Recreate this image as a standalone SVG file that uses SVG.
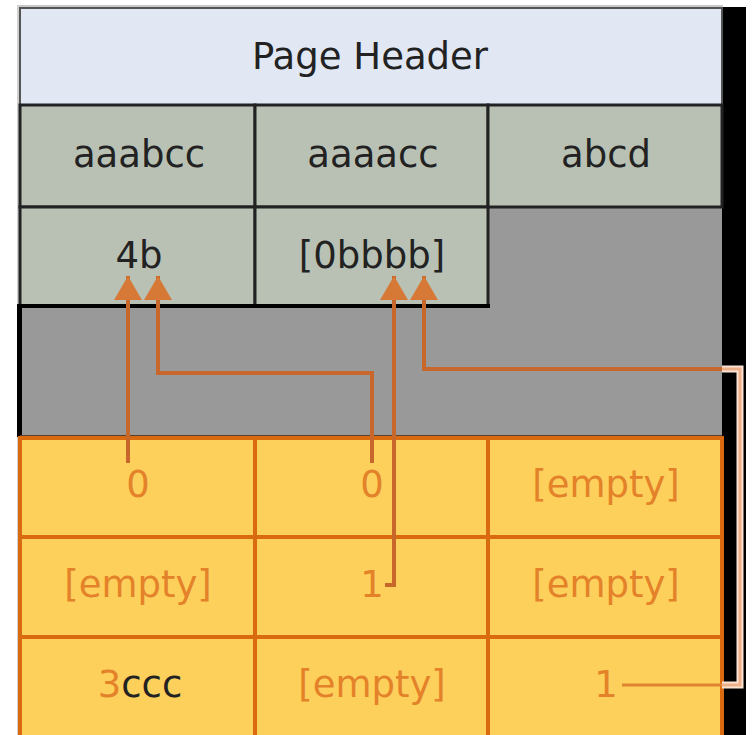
<svg xmlns="http://www.w3.org/2000/svg" width="755" height="735" viewBox="0 0 755 735">
<defs>
<style>
text{font-family:"DejaVu Sans","Liberation Sans",sans-serif;font-size:37px;text-anchor:middle}
.dk{fill:#222}
.or{fill:#e4822a}
.gc{fill:#b9c1b5;stroke:#222;stroke-width:3}
.oc{fill:#fdd05c;stroke:#d96a10;stroke-width:4}
.conn{fill:none;stroke:#c8672b;stroke-width:4}
</style>
<marker id="ah" markerUnits="userSpaceOnUse" markerWidth="26" markerHeight="30" refX="24" refY="15" orient="auto" viewBox="0 0 26 30"><path d="M0,1 L24,15 L0,29 z" fill="#d67936"/></marker>
</defs>
<rect x="0" y="0" width="755" height="735" fill="#fff"/>
<rect x="722" y="7" width="24" height="728" fill="#000"/>
<rect x="17" y="5" width="706" height="3" fill="#c8c8c8"/>
<rect x="17" y="5" width="3" height="730" fill="#d0d0d0"/>
<g id="gray-area">
<rect x="20" y="207" width="702" height="230" fill="#999"/>
<rect x="17" y="306" width="5" height="131" fill="#000"/>
<rect x="20" y="435" width="702" height="3" fill="#5a4030"/>
</g>
<g id="header">
<rect x="20" y="8" width="702" height="97" fill="#e1e8f4" stroke="#555" stroke-width="2"/>
<text class="dk" x="370" y="69">Page Header</text>
</g>
<g id="cell-aaabcc"><rect class="gc" x="20" y="105" width="235" height="102"/><text class="dk" x="139" y="167">aaabcc</text></g>
<g id="cell-aaaacc"><rect class="gc" x="255" y="105" width="233" height="102"/><text class="dk" x="373" y="167">aaaacc</text></g>
<g id="cell-abcd"><rect class="gc" x="488" y="105" width="234" height="102"/><text class="dk" x="606" y="167">abcd</text></g>
<g id="cell-4b"><rect class="gc" x="20" y="207" width="235" height="99"/><text class="dk" x="139" y="268">4b</text></g>
<g id="cell-0bbbb"><rect class="gc" x="255" y="207" width="233" height="99"/><text class="dk" x="372" y="268">[0bbbb]</text></g>
<rect x="17" y="304" width="473" height="4" fill="#000"/>
<g id="o-r1c1"><rect class="oc" x="20" y="438" width="235" height="99"/><text class="or" x="138" y="497">0</text></g>
<g id="o-r1c2"><rect class="oc" x="255" y="438" width="233" height="99"/><text class="or" x="372" y="497">0</text></g>
<g id="o-r1c3"><rect class="oc" x="488" y="438" width="234" height="99"/><text class="or" x="606" y="497">[empty]</text></g>
<g id="o-r2c1"><rect class="oc" x="20" y="537" width="235" height="100"/><text class="or" x="138" y="597">[empty]</text></g>
<g id="o-r2c2"><rect class="oc" x="255" y="537" width="233" height="100"/><text class="or" x="372" y="597">1</text></g>
<g id="o-r2c3"><rect class="oc" x="488" y="537" width="234" height="100"/><text class="or" x="606" y="597">[empty]</text></g>
<g id="o-r3c1"><rect class="oc" x="20" y="637" width="235" height="100"/><text x="140" y="697"><tspan class="or">3</tspan><tspan class="dk">ccc</tspan></text></g>
<g id="o-r3c2"><rect class="oc" x="255" y="637" width="233" height="100"/><text class="or" x="372" y="697">[empty]</text></g>
<g id="o-r3c3"><rect class="oc" x="488" y="637" width="234" height="100"/><text class="or" x="606" y="697">1</text></g>
<g id="connectors">
<path class="conn" d="M128,463 V276" marker-end="url(#ah)"/>
<path class="conn" d="M372,463 V373 H158 V276" marker-end="url(#ah)"/>
<path class="conn" d="M385,585 H394 V276" marker-end="url(#ah)"/>
<g>
<path d="M622,685 H722" fill="none" stroke="#e08430" stroke-width="3"/>
<path d="M722,685 H740 V369 H722" fill="none" stroke="#fbe3d3" stroke-width="7"/>
<path d="M722,685 H740 V369 H722" fill="none" stroke="#eeb088" stroke-width="3"/>
<path class="conn" d="M722,369 H424 V276" marker-end="url(#ah)"/>
</g>
</g>
</svg>
